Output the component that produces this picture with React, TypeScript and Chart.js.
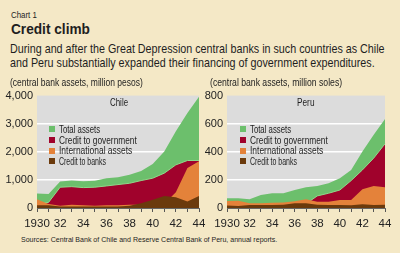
import React, { useEffect, useLayoutEffect, useRef } from "react";
import { Chart, registerables } from "chart.js";
Chart.register(...registerables);

const years = ["1930","1931","1932","1933","1934","1935","1936","1937","1938","1939","1940","1941","1942","1943","1944"];

const chileTotal = [520, 500, 940, 975, 950, 970, 1060, 1095, 1180, 1320, 1570, 2010, 2730, 3380, 3960];
const chileGov = [150, 200, 740, 760, 726, 740, 785, 833, 880, 976, 1060, 1240, 1535, 1690, 1690];
const chileIntl = [310, 140, 80, 120, 95, 80, 95, 95, 120, 120, 100, 150, 560, 1420, 1660];
const chileBanks = [100, 100, 50, 50, 50, 50, 50, 50, 80, 170, 290, 430, 380, 230, 430];

const peruTotal = [69, 69, 62, 93, 105, 105, 128, 148, 157, 176, 212, 271, 402, 521, 633];
const peruGov = [10, 10, 10, 10, 10, 10, 10, 30, 86, 105, 128, 195, 271, 355, 457];
const peruIntl = [50, 52, 33, 33, 38, 40, 48, 62, 45, 45, 57, 57, 133, 157, 148];
const peruBanks = [17, 14, 21, 21, 21, 24, 33, 33, 24, 21, 21, 19, 26, 21, 24];

const seriesNames = ["Total assets", "Credit to government", "International assets", "Credit to banks"];
const seriesColors = ["#6cbf6c", "#a0022c", "#e4823a", "#6b3a0c"];
const legendWidths = [41, 78, 73, 47];

const FONT = "'Liberation Sans', Arial, sans-serif";
const BG = "#f4e8c6";

const bgPlugin = {
  id: "plotBg",
  beforeDraw(chart: any) {
    const { ctx, chartArea } = chart;
    ctx.save();
    ctx.fillStyle = "#dcdcdc";
    ctx.fillRect(chartArea.left, chartArea.top, chartArea.right - chartArea.left, chartArea.bottom - chartArea.top);
    ctx.restore();
  },
};

function Fit(props: { x: number; y: number; w: number; size: number; bold?: boolean; children: any }) {
  const ref = useRef<HTMLSpanElement>(null);
  useLayoutEffect(() => {
    const el = ref.current;
    if (!el) return;
    el.style.transform = "none";
    const nat = el.offsetWidth;
    if (nat > 0) el.style.transform = `scaleX(${props.w / nat})`;
  }, []);
  return (
    <span
      ref={ref}
      style={{
        position: "absolute",
        left: props.x,
        top: props.y - props.size / 2,
        fontSize: props.size,
        lineHeight: `${props.size}px`,
        fontWeight: props.bold ? "bold" : "normal",
        whiteSpace: "nowrap",
        display: "inline-block",
        transformOrigin: "left top",
      }}
    >
      {props.children}
    </span>
  );
}

function AreaChart(props: { total: number[]; gov: number[]; intl: number[]; banks: number[]; max: number; step: number; padRight: number; width: number }) {
  const ref = useRef<HTMLCanvasElement>(null);
  useEffect(() => {
    const mk = (label: string, data: number[], color: string, border?: string) => ({
      label,
      data,
      backgroundColor: color,
      borderColor: border || color,
      borderWidth: border ? 1 : 0,
      fill: "origin",
      pointRadius: 0,
      tension: 0,
    });
    const chart = new Chart(ref.current as HTMLCanvasElement, {
      type: "line",
      data: {
        labels: years,
        datasets: [
          mk(seriesNames[3], props.banks, seriesColors[3]),
          mk(seriesNames[2], props.intl, seriesColors[2]),
          mk(seriesNames[1], props.gov, seriesColors[1], "#8fd88a"),
          mk(seriesNames[0], props.total, seriesColors[0]),
        ] as any,
      },
      options: {
        animation: false,
        responsive: false,
        layout: { padding: { top: 8, right: props.padRight, left: 0, bottom: 0 } },
        plugins: { legend: { display: false }, tooltip: { enabled: false } },
        scales: {
          x: {
            type: "category",
            offset: false,
            afterFit: (s: any) => {
              s.height = 22;
              s.paddingLeft = 0;
              s.paddingRight = 0;
            },
            grid: { display: true, drawOnChartArea: false, drawTicks: true, tickLength: 4, color: "#555", lineWidth: 1 },
            border: { display: true, color: "#666", width: 1 },
            ticks: {
              autoSkip: false,
              maxRotation: 0,
              padding: 5,
              color: "#222",
              font: { family: FONT, size: 11.5 },
              callback: (_v: any, i: number) => {
                const y = Number(years[i]);
                if (y % 2 !== 0) return "";
                return i === 0 ? years[i] : years[i].slice(2);
              },
            },
          },
          y: {
            min: 0,
            max: props.max,
            afterFit: (s: any) => { s.width = 37; },
            grid: {
              drawTicks: false,
              lineWidth: 1.5,
              color: (c: any) => (c.tick && (c.tick.value === 0 || c.tick.value === props.max) ? "rgba(0,0,0,0)" : "#ffffff"),
            },
            border: { display: false },
            ticks: {
              stepSize: props.step,
              padding: 4,
              color: "#222",
              font: { family: FONT, size: 11 },
              callback: (v: any) => Number(v).toLocaleString("en-US"),
            },
          },
        },
      } as any,
      plugins: [bgPlugin],
    });
    return () => chart.destroy();
  }, []);
  return <canvas ref={ref} width={props.width} height={145} style={{ width: props.width, height: 145, display: "block" }} />;
}

function Legend(props: { sq: number; tx: number }) {
  const rows = [129.3, 140, 150.7, 161.3];
  return (
    <>
      {seriesNames.map((n, i) => (
        <React.Fragment key={n}>
          <span style={{ position: "absolute", left: props.sq, top: rows[i] - 3, width: 6, height: 6, background: seriesColors[i] }} />
          <Fit x={props.tx} y={rows[i]} w={legendWidths[i]} size={11}>{n}</Fit>
        </React.Fragment>
      ))}
    </>
  );
}

export default function App() {
  return (
    <div style={{ position: "fixed", left: 0, top: 0, width: 400, height: 253, background: BG, fontFamily: FONT, color: "#1e1e1e", overflow: "hidden" }}>
      <div style={{ position: "absolute", left: 0, top: 85 }}>
        <AreaChart total={chileTotal} gov={chileGov} intl={chileIntl} banks={chileBanks} max={4000} step={1000} padRight={11} width={210} />
      </div>
      <div style={{ position: "absolute", left: 190, top: 85 }}>
        <AreaChart total={peruTotal} gov={peruGov} intl={peruIntl} banks={peruBanks} max={800} step={200} padRight={15} width={210} />
      </div>
      <Fit x={11} y={15} w={26} size={8.5}>Chart 1</Fit>
      <Fit x={11} y={29} w={79} size={14} bold>Credit climb</Fit>
      <Fit x={10} y={48.3} w={375} size={13.5}>During and after the Great Depression central banks in such countries as Chile</Fit>
      <Fit x={10} y={62.5} w={365} size={13.5}>and Peru substantially expanded their financing of government expenditures.</Fit>
      <Fit x={10} y={82.5} w={133} size={11}>(central bank assets, million pesos)</Fit>
      <Fit x={210} y={82.5} w={132} size={11}>(central bank assets, million soles)</Fit>
      <Fit x={110} y={102.5} w={18} size={11}>Chile</Fit>
      <Fit x={297} y={102.5} w={17.3} size={11}>Peru</Fit>
      <Legend sq={49} tx={59} />
      <Legend sq={239.5} tx={250} />
      <Fit x={20.7} y={240} w={256} size={8}>Sources: Central Bank of Chile and Reserve Central Bank of Peru, annual reports.</Fit>
    </div>
  );
}
